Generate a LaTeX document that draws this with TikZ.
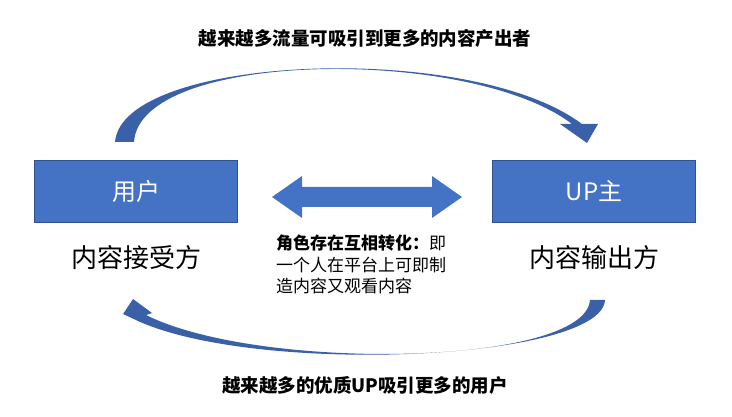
\documentclass[tikz,border=0pt]{standalone}
\usepackage{fontspec}
\setmainfont{Noto Sans CJK SC}
\usetikzlibrary{positioning}
\definecolor{pblue}{HTML}{4472C4}
\definecolor{dblue}{HTML}{2F528F}
\tikzset{role/.style={draw=dblue, fill = pblue,rectangle,minimum width=203pt,minimum height=62pt,text=white,font=\fontsize{24}{28}\selectfont},
 sub/.style={font=\fontsize{26}{30}\selectfont},
 note/.style={font=\bfseries\fontsize{18.5}{22}\selectfont}}

\begin{document}
\begin{tikzpicture}[x=1pt,y=-1pt]
\useasboundingbox (0,0) rectangle (732,417);
\node[role] (user) at (136,191) {用户};
\node[role] (up) at (594,191) {UP主};
\node[sub, below=20pt of user] (recv) {内容接受方};
\node[sub, below=20pt of up] (send) {内容输出方};
\node[note] (top) at (365,38) {越来越多流量可吸引到更多的内容产出者};
\node[note] (bot) at (365,385) {越来越多的优质UP吸引更多的用户};
\node[align=left,anchor=north west,font=\fontsize{17}{21.5}\selectfont,inner sep=0pt] (mid) at (276,235)
 {\textbf{角色存在互相转化：}即\\一个人在平台上可即制\\造内容又观看内容};
% double arrow
\fill[pblue] (272,197) -- (302,176) -- (302,187) -- (432,187) -- (432,176) -- (462,197)
 -- (432,218) -- (432,207) -- (302,207) -- (302,218) -- cycle;
% curved arrows
\fill[pblue!85!black] (115,142) .. controls (122,55) and (470,40) .. (582,124) -- (598,124) -- (587,143)
 -- (560,124) -- (572,124) .. controls (470,46) and (140,50) .. (134,142) -- cycle;
\fill[pblue!85!black] (590,300) -- (605,300) .. controls (602,360) and (260,376) .. (138,321)
 -- (123,314) -- (133,299) -- (152,313) -- (146,315) .. controls (260,372) and (585,366) .. (590,300) -- cycle;
\end{tikzpicture}
\end{document}
